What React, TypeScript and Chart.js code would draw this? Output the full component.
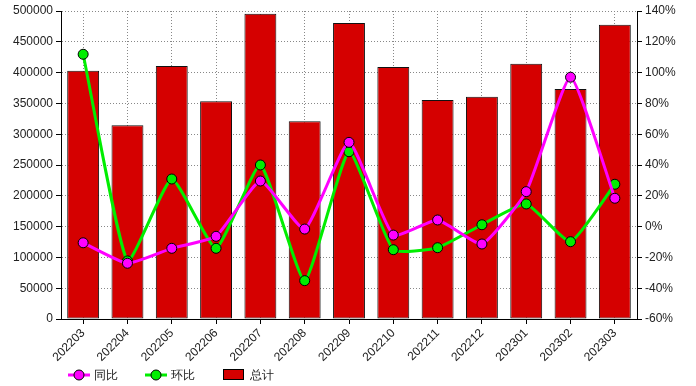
import React, { useEffect, useRef } from "react";
import { Chart, registerables } from "chart.js";

Chart.register(...registerables);

const categories = ["202203","202204","202205","202206","202207","202208","202209","202210","202211","202212","202301","202302","202303"];
const totalValues = [403000, 314400, 410700, 353400, 495600, 320900, 480500, 409100, 355500, 360900, 414400, 373400, 477800];
const yoyValues = [-10.5, -23.8, -14.1, -6.3, 29.6, -1.6, 54.7, -5.5, 4.3, -11.3, 22.7, 97.0, 18.4];
const momValues = [111.9, -22.3, 30.9, -14.1, 40.0, -35.1, 48.6, -15.0, -13.7, 1.2, 14.7, -9.8, 27.5];
const legendLabels = ["同比", "环比", "总计"];

const FONT = "'Liberation Sans', Arial, sans-serif";
const TEXT = "#222";

const legendPlugin = {
  id: "customLegend",
  afterDraw(chart: any) {
    const ctx = chart.ctx;
    ctx.save();
    const y = 375;
    ctx.font = `12px ${FONT}`;
    ctx.textBaseline = "middle";
    ctx.fillStyle = TEXT;
    const drawLineItem = (x: number, color: string, label: string) => {
      ctx.strokeStyle = color;
      ctx.lineWidth = 3;
      ctx.beginPath();
      ctx.moveTo(x, y);
      ctx.lineTo(x + 22, y);
      ctx.stroke();
      ctx.beginPath();
      ctx.arc(x + 11, y, 5, 0, Math.PI * 2);
      ctx.fillStyle = color;
      ctx.fill();
      ctx.lineWidth = 1;
      ctx.strokeStyle = "#000";
      ctx.stroke();
      ctx.fillStyle = TEXT;
      ctx.fillText(label, x + 26, y + 1);
    };
    drawLineItem(68, "#ff00ff", legendLabels[0]);
    drawLineItem(145, "#00ee00", legendLabels[1]);
    ctx.fillStyle = "#d50000";
    ctx.fillRect(223, y - 5, 20, 10);
    ctx.strokeStyle = "#000";
    ctx.lineWidth = 1;
    ctx.strokeRect(223.5, y - 5.5, 20, 10);
    ctx.fillStyle = TEXT;
    ctx.fillText(legendLabels[2], 250, y + 1);
    ctx.restore();
  },
};

export default function App() {
  const ref = useRef<HTMLCanvasElement>(null);
  useEffect(() => {
    document.body.style.margin = "0";
    const chart = new Chart(ref.current!, {
      type: "bar",
      data: {
        labels: categories,
        datasets: [
          {
            type: "line",
            label: legendLabels[0],
            data: yoyValues,
            yAxisID: "y1",
            borderColor: "#ff00ff",
            backgroundColor: "#ff00ff",
            borderWidth: 3,
            pointRadius: 5,
            pointBorderColor: "#000",
            pointBorderWidth: 1,
            pointBackgroundColor: "#ff00ff",
            tension: 0.15,
            order: 0,
          },
          {
            type: "line",
            label: legendLabels[1],
            data: momValues,
            yAxisID: "y1",
            borderColor: "#00ee00",
            backgroundColor: "#00ee00",
            borderWidth: 3,
            pointRadius: 5,
            pointBorderColor: "#000",
            pointBorderWidth: 1,
            pointBackgroundColor: "#00ee00",
            tension: 0.15,
            order: 1,
          },
          {
            type: "bar",
            label: legendLabels[2],
            data: totalValues,
            yAxisID: "y",
            backgroundColor: "#d50000",
            borderColor: "#111",
            borderWidth: 1,
            borderSkipped: false,
            categoryPercentage: 1,
            barPercentage: 0.72,
            order: 2,
          },
        ],
      },
      options: {
        animation: false,
        responsive: false,
        layout: { padding: { top: 11, left: 0, right: 0, bottom: 0 } },
        plugins: { legend: { display: false }, tooltip: { enabled: false } },
        scales: {
          x: {
            offset: true,
            grid: {
              offset: false,
              color: "#888",
              tickBorderDash: [],
              tickColor: "#000",
              tickLength: 5,
            },
            border: { color: "#000", width: 1, dash: [1, 2] },
            ticks: {
              color: TEXT,
              font: { family: FONT, size: 12 },
              maxRotation: 45,
              minRotation: 45,
              padding: 2,
              autoSkip: false,
            },
            afterFit(scale: any) {
              scale.height = 67;
            },
          },
          y: {
            position: "left",
            min: 0,
            max: 500000,
            ticks: {
              stepSize: 50000,
              color: TEXT,
              font: { family: FONT, size: 12 },
              padding: 3,
              callback: (v: any) => String(v),
            },
            grid: {
              color: "#888",
              tickBorderDash: [],
              tickColor: "#000",
              tickLength: 5,
            },
            border: { color: "#000", width: 1, dash: [1, 2] },
            afterFit(scale: any) {
              scale.width = 61;
            },
          },
          y1: {
            position: "right",
            min: -60,
            max: 140,
            ticks: {
              stepSize: 20,
              color: TEXT,
              font: { family: FONT, size: 12 },
              padding: 3,
              callback: (v: any) => v + "%",
            },
            grid: { drawOnChartArea: false, tickColor: "#000", tickLength: 5 },
            border: { color: "#000", width: 1 },
            afterFit(scale: any) {
              scale.width = 59;
            },
          },
        },
      } as any,
      plugins: [legendPlugin],
    });
    return () => chart.destroy();
  }, []);
  return <canvas ref={ref} width={696} height={386} style={{ display: "block" }} />;
}
